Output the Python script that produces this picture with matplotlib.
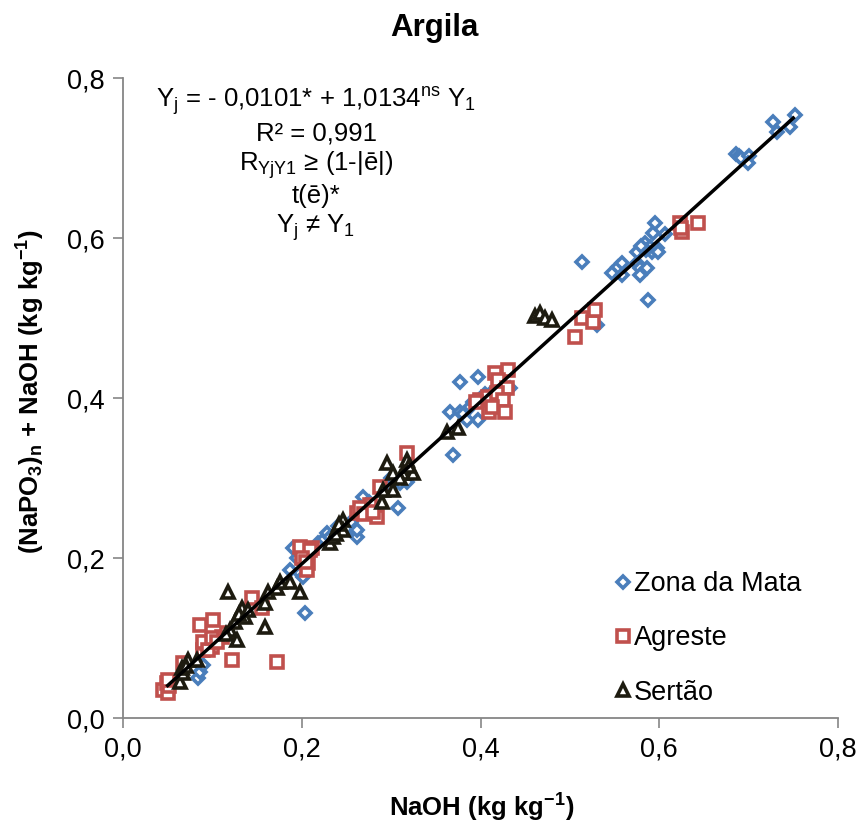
import matplotlib
matplotlib.use("Agg")
import matplotlib.pyplot as plt
import numpy as np

plt.rcParams['font.family'] = ['Liberation Sans', 'DejaVu Sans']
plt.rcParams['mathtext.fontset'] = 'custom'
plt.rcParams['mathtext.rm'] = 'Liberation Sans'
plt.rcParams['mathtext.it'] = 'Liberation Sans:italic'
plt.rcParams['mathtext.bf'] = 'Liberation Sans:bold'

# ---------------- data ----------------
zm_x = [0.084, 0.086, 0.089, 0.187, 0.190, 0.198, 0.201, 0.2035, 0.195, 0.210, 0.218, 0.225, 0.228, 0.232,
        0.240, 0.255, 0.260, 0.262, 0.262, 0.2685, 0.275, 0.290, 0.3077, 0.310, 0.318, 0.300,
        0.366, 0.369, 0.377, 0.377, 0.388, 0.397, 0.397, 0.392, 0.400, 0.405, 0.410, 0.415, 0.420, 0.425,
        0.433, 0.380, 0.385,
        0.530, 0.5135, 0.547, 0.554, 0.558, 0.558, 0.575, 0.578, 0.578, 0.575, 0.584, 0.586, 0.587, 0.590,
        0.592, 0.593, 0.595, 0.597, 0.599, 0.606, 0.585, 0.580,
        0.686, 0.689, 0.692, 0.700, 0.699, 0.727, 0.732, 0.746, 0.752]
zm_y = [0.050, 0.058, 0.066, 0.185, 0.213, 0.181, 0.176, 0.131, 0.200, 0.205, 0.219, 0.224, 0.231, 0.226,
        0.240, 0.245, 0.233, 0.226, 0.235, 0.276, 0.270, 0.285, 0.2625, 0.294, 0.295, 0.300,
        0.3825, 0.329, 0.420, 0.3825, 0.389, 0.426, 0.3725, 0.395, 0.400, 0.405, 0.398, 0.410, 0.408, 0.415,
        0.4125, 0.380, 0.372,
        0.491, 0.570, 0.556, 0.564, 0.569, 0.554, 0.569, 0.5625, 0.554, 0.5825, 0.594, 0.5625, 0.5225, 0.589,
        0.5825, 0.606, 0.619, 0.5875, 0.5825, 0.605, 0.585, 0.590,
        0.705, 0.702, 0.700, 0.703, 0.694, 0.745, 0.7325, 0.739, 0.754]

ag_x = [0.045, 0.049, 0.050, 0.052, 0.050, 0.067, 0.086, 0.1007, 0.0895, 0.094, 0.0996, 0.111, 0.116,
        0.122, 0.172, 0.144, 0.1555, 0.198, 0.2115, 0.209, 0.207, 0.206, 0.200, 0.205, 0.090, 0.095,
        0.100, 0.105,
        0.262, 0.273, 0.284, 0.276, 0.2875, 0.265, 0.270, 0.318, 0.280,
        0.416, 0.431, 0.420, 0.430, 0.3995, 0.408, 0.418, 0.410, 0.425, 0.427, 0.413, 0.395,
        0.506, 0.5135, 0.526, 0.528, 0.623, 0.6255, 0.643, 0.624]
ag_y = [0.035, 0.044, 0.031, 0.040, 0.0475, 0.069, 0.116, 0.1225, 0.085, 0.094, 0.089, 0.101, 0.106,
        0.0725, 0.070, 0.150, 0.1375, 0.214, 0.2125, 0.210, 0.194, 0.185, 0.200, 0.195, 0.095, 0.085,
        0.100, 0.095,
        0.256, 0.260, 0.251, 0.266, 0.289, 0.262, 0.255, 0.331, 0.258,
        0.431, 0.435, 0.4225, 0.4125, 0.3975, 0.401, 0.406, 0.3825, 0.3975, 0.3825, 0.389, 0.395,
        0.476, 0.500, 0.495, 0.510, 0.619, 0.6075, 0.619, 0.612]

se_x = [0.064, 0.067, 0.066, 0.073, 0.083, 0.070, 0.1175, 0.120, 0.125, 0.1275, 0.133, 0.1365, 0.130,
        0.140, 0.159, 0.159, 0.162, 0.172, 0.1757, 0.187, 0.198, 0.115,
        0.2315, 0.235, 0.2405, 0.246, 0.246, 0.238, 0.242, 0.290, 0.291, 0.302, 0.302, 0.313, 0.3245,
        0.295, 0.318, 0.310, 0.320,
        0.3625, 0.375, 0.461, 0.467, 0.472, 0.480]
se_y = [0.045, 0.056, 0.0625, 0.0725, 0.0725, 0.065, 0.1575, 0.110, 0.120, 0.0975, 0.1375, 0.126, 0.130,
        0.135, 0.144, 0.114, 0.1575, 0.1625, 0.170, 0.170, 0.1575, 0.105,
        0.219, 0.226, 0.2375, 0.2475, 0.235, 0.230, 0.242, 0.270, 0.285, 0.285, 0.306, 0.306, 0.306,
        0.319, 0.3225, 0.300, 0.315,
        0.3575, 0.3625, 0.503, 0.506, 0.500, 0.497]

intercept = -0.0101
slope = 1.0134
line_x = [0.05, 0.75]

# ---------------- figure ----------------
W, H = 861, 827
fig = plt.figure(figsize=(W / 100, H / 100), dpi=100)
ax = fig.add_axes([123 / W, 1 - 718 / H, 715 / W, 640 / H])

c_zm = '#4A7EBB'
c_ag = '#C0504D'
c_se = '#1D1B10'

ax.plot(zm_x, zm_y, linestyle='none', marker='D', markersize=6.5, markerfacecolor='white',
        markeredgecolor=c_zm, markeredgewidth=2.6, label='Zona da Mata', zorder=3)
ax.plot(ag_x, ag_y, linestyle='none', marker='s', markersize=8.5, markerfacecolor='white',
        markeredgecolor=c_ag, markeredgewidth=2.6, label='Agreste', zorder=3)
ax.plot(se_x, se_y, linestyle='none', marker='^', markersize=8.5, markerfacecolor='white',
        markeredgecolor=c_se, markeredgewidth=2.6, label='Sertão', zorder=4)

lx = np.array(line_x)
ax.plot(lx, intercept + slope * lx, color='black', linewidth=2.5, zorder=5)

ax.set_xlim(0, 0.8)
ax.set_ylim(0, 0.8)
ticks = [0.0, 0.2, 0.4, 0.6, 0.8]
ax.set_xticks(ticks)
ax.set_yticks(ticks)
ax.set_xticklabels([f"{t:.1f}".replace('.', ',') for t in ticks])
ax.set_yticklabels([f"{t:.1f}".replace('.', ',') for t in ticks])
ax.tick_params(axis='both', labelsize=19.5, color='#868686', length=7, width=1.2, direction='out',
               pad=6)
for s in ['top', 'right']:
    ax.spines[s].set_visible(False)
for s in ['left', 'bottom']:
    ax.spines[s].set_color('#868686')
    ax.spines[s].set_linewidth(1.3)

fig.text(434 / W, 1 - 28 / H, 'Argila', fontsize=22.5, fontweight='bold', ha='center', va='center')
ax.set_xlabel(r'NaOH (kg kg$^\mathbf{-1}$)', fontsize=18.5, fontweight='bold')
ax.xaxis.set_label_coords((482 - 123) / 715, (718 - 808) / 640)
ax.xaxis.label.set_va('center')
ax.set_ylabel(r'(NaPO$_\mathbf{3}$)$_\mathbf{n}$ + NaOH (kg kg$^\mathbf{-1}$)', fontsize=18.5,
              fontweight='bold')
ax.yaxis.set_label_coords((31 - 123) / 715, (718 - 392) / 640)
ax.yaxis.label.set_va('center')

lines = [r'Y$_\mathregular{j}$ = - 0,0101* + 1,0134$^\mathregular{ns}$ Y$_\mathregular{1}$',
         r'R² = 0,991',
         r'R$_\mathregular{YjY1}$ ≥ (1-|ē|)',
         r't(ē)*',
         r'Y$_\mathregular{j}$ ≠ Y$_\mathregular{1}$']
for i, s in enumerate(lines):
    ypix = 102 + 31.5 * i
    fig.text(316 / W, 1 - ypix / H, s, ha='center', va='center', fontsize=18.5)

leg = ax.legend(loc='upper left', bbox_to_anchor=(615 / W, 1 - 571 / H),
                bbox_transform=fig.transFigure, frameon=False, fontsize=19.5,
                handlelength=0.6, handletextpad=0.1, labelspacing=1.05, borderaxespad=0,
                borderpad=0)

fig.savefig('out.png', dpi=100)
